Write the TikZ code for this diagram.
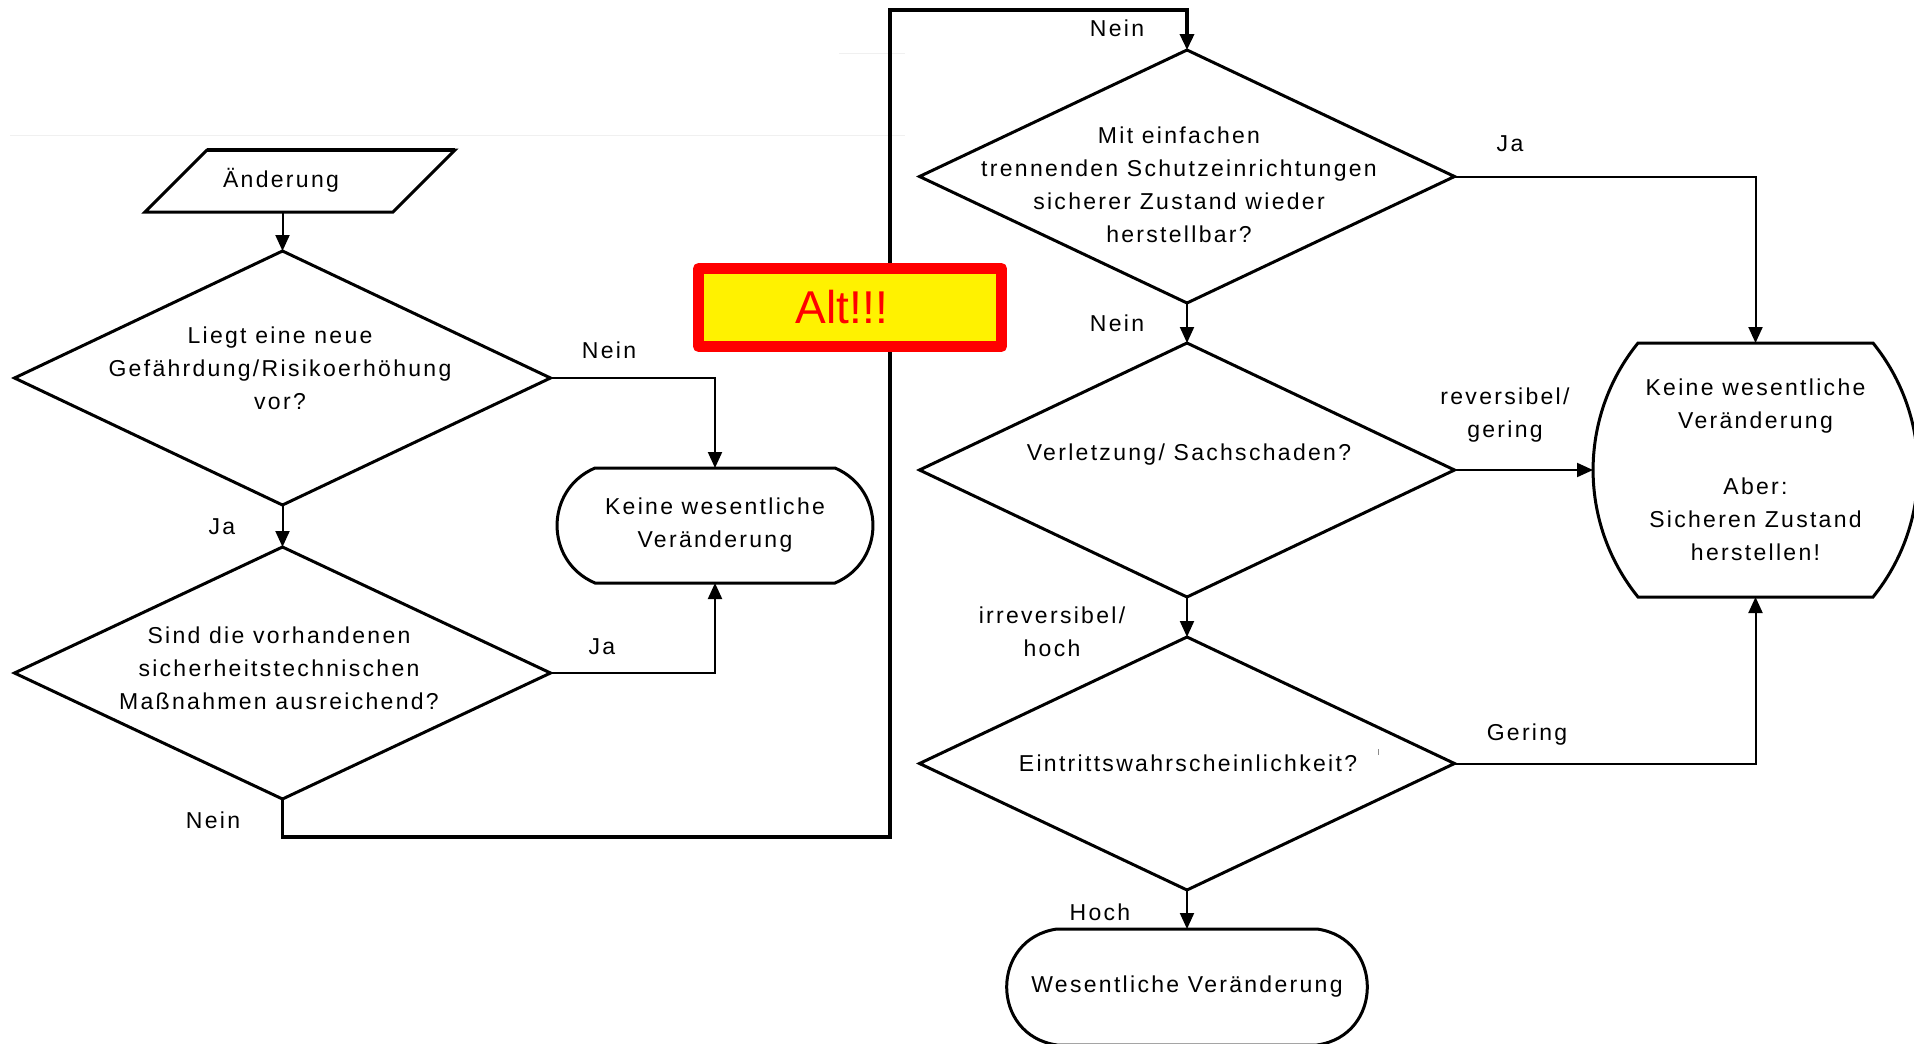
\documentclass[tikz,border=0pt]{standalone}
\usepackage{fontspec}
\setmainfont{Liberation Sans}
\newfontfamily\spacedfont{Liberation Sans}[LetterSpace=10]
\usetikzlibrary{shapes.geometric,arrows.meta,calc}

% Outline of a terminal: flat top and bottom, bulging curved sides.
% #1 frame node, #2 bulge, #3/#4 control-point offsets of the side curves
\newcommand\termoutline[4]{%
  \draw[termline] ($(#1.north west)+(#2,0)$) -- ($(#1.north east)+(-#2,0)$)
    .. controls ($(#1.north east)+(-#2+#3,#4)$) and ($(#1.south east)+(-#2+#3,-#4)$) .. ($(#1.south east)+(-#2,0)$)
    -- ($(#1.south west)+(#2,0)$)
    .. controls ($(#1.south west)+(#2-#3,-#4)$) and ($(#1.north west)+(#2-#3,#4)$) .. ($(#1.north west)+(#2,0)$)
    -- cycle;}

\begin{document}
\begin{tikzpicture}[x=1pt,y=-1pt,
  every node/.style={inner sep=0pt, outer sep=0pt},
  txt/.style={font=\spacedfont\fontsize{23}{33}\selectfont, align=center},
  decision/.style={diamond, draw, line width=3pt, minimum width=535pt, minimum height=254pt},
  terminal/.style={txt},
  termline/.style={line width=3pt},
  flow/.style={line width=2pt, -{Triangle[length=16pt,width=14pt]}},
]
\fill[white] (0,0) rectangle (1914,1044);
\useasboundingbox (0,0) rectangle (1914,1044);

% faint guide lines
\draw[black!6, line width=1pt] (10,135) -- (905,135);
\draw[black!6, line width=1pt] (839,53) -- (905,53);

% input (parallelogram drawn round an invisible frame node)
\node[minimum width=248pt, minimum height=62pt] (p) at (300,181) {};
\draw[line width=3pt, line join=miter]
  ([xshift=-31pt]p.south west) -- ([xshift=31pt]p.north west) --
  ([xshift=31pt]p.north east) -- ([xshift=-31pt]p.south east) -- cycle;
\draw[line width=4pt] ([xshift=31pt]p.north west) -- ([xshift=31pt]p.north east);
\node[txt] (pt) at (281,180) {Änderung};

% left column
\node[decision, minimum width=536pt] (d1) at (282.5,378) {};
\node[txt] (d1t) at (280,368) {Liegt eine neue\\Gefährdung/Risikoerhöhung\\vor?};
\node[decision, minimum width=536pt, minimum height=252pt] (d2) at (282.5,673) {};
\node[txt] (d2t) at (279,668) {Sind die vorhandenen\\sicherheitstechnischen\\Maßnahmen ausreichend?};
\node[terminal, minimum width=316pt, minimum height=115pt] (t1) at (715,525.5)
  {Keine wesentliche\\Veränderung};
\termoutline{t1}{38}{50.6}{21.6}

% right column
\node[decision, minimum height=253pt] (d3) at (1187,176.5) {};
\node[txt] (d3t) at (1179,185) {Mit einfachen\\trennenden Schutzeinrichtungen\\sicherer Zustand wieder\\herstellbar?};
\node[decision] (d4) at (1187,470) {};
\node[txt] (d4t) at (1189,455) {Verletzung/ Sachschaden?};
\node[decision, minimum height=253pt] (d5) at (1187,763.5) {};
\node[txt] (d5t) at (1188,763) {Eintrittswahrscheinlichkeit?};
\draw[black!45, line width=1pt] (1378,749) -- (1378,755);
\node[terminal, minimum width=325pt, minimum height=254pt] (t2) at (1755.5,470)
  {Keine wesentliche\\Veränderung\\[33pt]Aber:\\Sicheren Zustand\\herstellen!};
\termoutline{t2}{45}{59.9}{74}
\node[terminal, minimum width=360pt, minimum height=116pt] (t3) at (1187,987)
  {Wesentliche Veränderung};
\termoutline{t3}{50}{67.1}{9.5}

% branch labels
\node[txt] (l1) at (609,350) {Nein};
\node[txt] (l2) at (222,527) {Ja};
\node[txt] (l3) at (602,647) {Ja};
\node[txt] (l4) at (213,820) {Nein};
\node[txt] (l5) at (1117,28) {Nein};
\node[txt] (l6) at (1510,144) {Ja};
\node[txt] (l7) at (1117,323) {Nein};
\node[txt] (l8) at (1505,415) {reversibel/\\gering};
\node[txt] (l9) at (1052,632) {irreversibel/\\hoch};
\node[txt] (l10) at (1527,735) {Gering};
\node[txt] (l11) at (1100,912) {Hoch};

% connectors
\coordinate (c1) at (890,837);
\coordinate (c2) at (890,10);
\draw[flow] (p.south -| d1.north) -- (d1.north);
\draw[flow] (d1.east) -| (t1.north);
\draw[flow] (d1.south) -- (d2.north);
\draw[flow] (d2.east) -| (t1.south);
\draw[flow, line width=3.5pt] (d2.south) |- (c1) -- (c2) -| (d3.north);
\draw[flow] (d3.east) -| (t2.north);
\draw[flow] (d3.south) -- (d4.north);
\draw[flow] (d4.east) -- (t2.west);
\draw[flow] (d4.south) -- (d5.north);
\draw[flow] (d5.east) -| (t2.south);
\draw[flow] (d5.south) -- (t3.north);

% warning stamp
\node[draw=red, fill=yellow, line width=11pt, line join=round, minimum width=303pt, minimum height=78pt,
      text=red, font=\fontsize{46}{50}\selectfont] (alt) at (850,307.5) {Alt!!!\kern16pt};
\end{tikzpicture}
\end{document}
